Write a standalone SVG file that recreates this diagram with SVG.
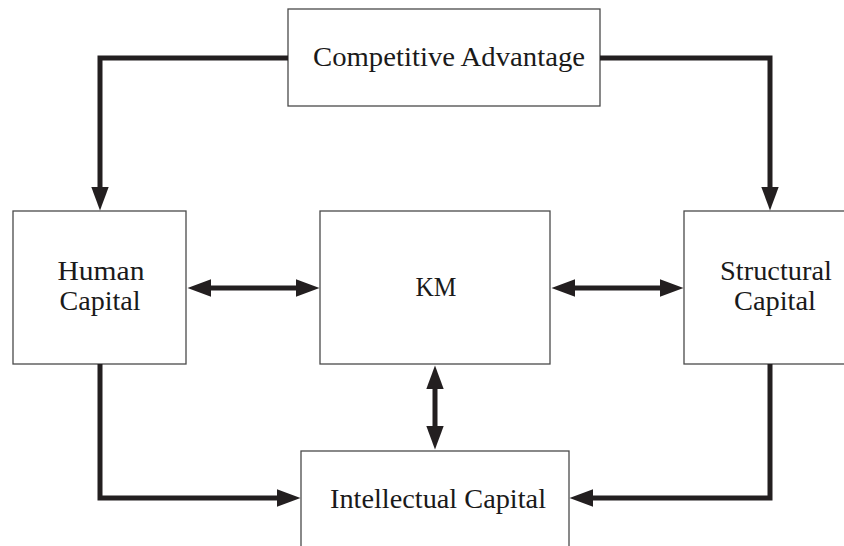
<svg xmlns="http://www.w3.org/2000/svg" width="844" height="546" viewBox="0 0 844 546">
  <style>
    .box { fill: #ffffff; stroke: #4a4a4a; stroke-width: 1.3; }
    .lbl { font-family: "Liberation Serif", "DejaVu Serif", serif; font-size: 27px; fill: #1a1a1a; text-anchor: middle; }
    .conn { fill: none; stroke: #231f20; stroke-width: 5; stroke-linejoin: miter; }
  </style>
  <defs>
    <marker id="ah" markerUnits="userSpaceOnUse" markerWidth="24" markerHeight="18" refX="11" refY="8.5" orient="auto-start-reverse" viewBox="0 0 23 17">
      <path d="M0,0 L23,8.5 L0,17 z" fill="#231f20"/>
    </marker>
  </defs>
  <rect width="844" height="546" fill="#ffffff"/>

  <g id="competitive-advantage">
    <rect class="box" x="288" y="9" width="312" height="97"/>
    <text class="lbl" x="449" y="66" textLength="272" lengthAdjust="spacingAndGlyphs">Competitive Advantage</text>
  </g>
  <g id="human-capital">
    <rect class="box" x="13" y="211" width="173" height="153"/>
    <text class="lbl" x="101" y="280" textLength="87" lengthAdjust="spacingAndGlyphs">Human</text>
    <text class="lbl" x="100" y="310" textLength="81" lengthAdjust="spacingAndGlyphs">Capital</text>
  </g>
  <g id="km">
    <rect class="box" x="320" y="211" width="230" height="153"/>
    <text class="lbl" x="436" y="296" textLength="41" lengthAdjust="spacingAndGlyphs">KM</text>
  </g>
  <g id="structural-capital">
    <rect class="box" x="684" y="211" width="170" height="153"/>
    <text class="lbl" x="776" y="280" textLength="112" lengthAdjust="spacingAndGlyphs">Structural</text>
    <text class="lbl" x="775" y="310" textLength="82" lengthAdjust="spacingAndGlyphs">Capital</text>
  </g>
  <g id="intellectual-capital">
    <rect class="box" x="301" y="451" width="268" height="110"/>
    <text class="lbl" x="438" y="508" textLength="216" lengthAdjust="spacingAndGlyphs">Intellectual Capital</text>
  </g>

  <g id="connectors">
    <path class="conn" d="M288,58 H100 V198" marker-end="url(#ah)"/>
    <path class="conn" d="M600,58 H770 V198" marker-end="url(#ah)"/>
    <path class="conn" d="M200,288 H307" marker-start="url(#ah)" marker-end="url(#ah)"/>
    <path class="conn" d="M564,288 H671" marker-start="url(#ah)" marker-end="url(#ah)"/>
    <path class="conn" d="M435,378 V437" marker-start="url(#ah)" marker-end="url(#ah)"/>
    <path class="conn" d="M100,364 V498 H288" marker-end="url(#ah)"/>
    <path class="conn" d="M770,364 V498 H582" marker-end="url(#ah)"/>
  </g>
</svg>
